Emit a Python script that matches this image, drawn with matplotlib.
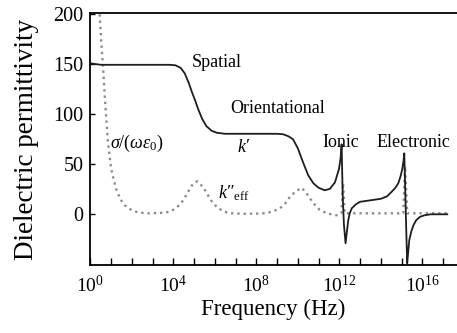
# Dielectric permittivity vs frequency: k' (solid) and k''_eff (dotted)

import matplotlib
matplotlib.use('Agg')
import matplotlib.pyplot as plt
import numpy as np

#### DATA ####

# k' : log10(frequency), permittivity
kp_logf = [0.0, 0.5, 1.0, 2.0, 3.0, 3.8, 4.1, 4.35, 4.55, 4.75, 4.9, 5.05, 5.2,
           5.4, 5.6, 5.85, 6.1, 6.5, 7.0, 8.0, 9.0, 9.3, 9.55, 9.77, 10.0,
           10.27, 10.5, 10.75, 11.0, 11.3, 11.55, 11.79, 11.98, 12.06, 12.11,
           12.16, 12.22, 12.3, 12.36, 12.43, 12.5, 12.6, 12.8, 13.0, 13.5,
           14.0, 14.3, 14.52, 14.7, 14.84, 14.95, 15.03, 15.09, 15.13, 15.18,
           15.23, 15.27, 15.33, 15.37, 15.47, 15.57, 15.7, 15.89, 16.1, 16.4,
           17.2]
kp_val = [151, 149.5, 149.5, 149.5, 149.5, 149.5, 149, 146.5, 141, 131, 122,
          114, 105, 95, 88, 83.5, 81.5, 80.5, 80.5, 80.5, 80.5, 80, 78, 75,
          66, 51, 39, 31, 26.5, 24, 25.5, 32, 45, 56, 70, 20, -10, -29, -18,
          -6, 1, 6, 10, 12.5, 14, 15.5, 18, 22.5, 26.5, 31, 38, 45, 53, 61,
          20, -20, -49, -35, -26, -17, -11, -6, -2.5, -1, 0, 0]

# k''_eff together with sigma/(omega eps0)
kpp_logf = [0.45, 0.52, 0.61, 0.72, 0.85, 1.0, 1.1, 1.25, 1.45, 1.66, 2.0, 2.3,
            2.7, 3.0, 3.5, 3.8, 4.0, 4.25, 4.48, 4.7, 4.9, 5.05, 5.15, 5.3,
            5.45, 5.61, 5.85, 6.09, 6.4, 6.73, 7.5, 8.2, 8.5, 8.8, 9.14, 9.4,
            9.62, 9.9, 10.19, 10.45, 10.75, 11.05, 11.39, 11.86, 12.1, 12.18,
            12.26, 12.6, 14.0, 15.08, 15.17, 15.27, 15.6, 17.2]
kpp_val = [200, 175, 148, 111, 72, 46, 37, 25, 15, 9, 4, 2, 1, 1, 1.5, 2.5,
           4.5, 8.5, 14, 22, 29, 32, 33, 30, 27, 21, 13, 7.5, 3, 1, 0.5, 0.8,
           1.2, 3, 6, 11, 17.5, 23, 26.5, 20, 11, 4.5, 1, -1, 1, 31, 1, 1, 1,
           1, 48, 1, 1, 1]

xtick_exps = list(range(0, 18))
xtick_labels = [f'$10^{{{e}}}$' if e % 4 == 0 else '' for e in xtick_exps]
yticks = [0, 50, 100, 150, 200]

#### PLOT ####

plt.rcParams['font.family'] = 'Liberation Serif'
plt.rcParams['mathtext.fontset'] = 'custom'
plt.rcParams['mathtext.rm'] = 'Liberation Serif'
plt.rcParams['mathtext.it'] = 'Liberation Serif:italic'

fig = plt.figure(figsize=(4.57, 3.33), dpi=100)
ax = fig.add_axes([0.1976, 0.2042, 0.8024, 0.7553])

ax.plot(10**np.array(kpp_logf), kpp_val, ls=':', c='#8c8c8c', lw=1.7)
ax.plot(10**np.array(kp_logf), kp_val, ls='-', c='#1e1e1e', lw=1.3)

ax.set_xscale('log')
ax.set_xlim(1, 10**17.67)
ax.set_ylim(-50.7, 200.8)

ax.set_xticks([10.0**e for e in xtick_exps])
ax.set_xticklabels(xtick_labels)
ax.xaxis.set_minor_locator(matplotlib.ticker.NullLocator())
ax.set_yticks(yticks)
ax.tick_params(axis='x', direction='in', length=5, width=1, labelsize=14, pad=7)
ax.tick_params(axis='y', direction='in', length=3.5, width=1, labelsize=14.5, pad=5)

for s in ['left', 'bottom', 'top']:
    ax.spines[s].set_linewidth(1.3)
ax.spines['right'].set_visible(False)

ax.set_xlabel('Frequency (Hz)', fontsize=16.5, labelpad=2)
ax.set_ylabel('Dielectric permittivity', fontsize=19.5, labelpad=10)

# annotations
fs = 13
ax.text(10**4.9, 152, 'Spatial', fontsize=fs, va='center', ha='left')
ax.text(10**6.73, 106, 'Orientational', fontsize=fs, va='center', ha='left')
ax.text(10**7.07, 67, 'k\u2032', fontsize=fs, style='italic', va='center', ha='left')
ax.text(10**0.95, 71, r'$\sigma/(\omega\varepsilon_0)$', fontsize=fs, va='center', ha='left')
ax.text(10**6.15, 16, 'k\u2033' + r'$_{\mathrm{eff}}$', fontsize=fs, style='italic',
        va='baseline', ha='left')
ax.text(10**11.2, 72, 'Ionic', fontsize=fs, va='center', ha='left')
ax.text(10**13.8, 72, 'Electronic', fontsize=fs, va='center', ha='left')

plt.savefig('out.png', dpi=100)
